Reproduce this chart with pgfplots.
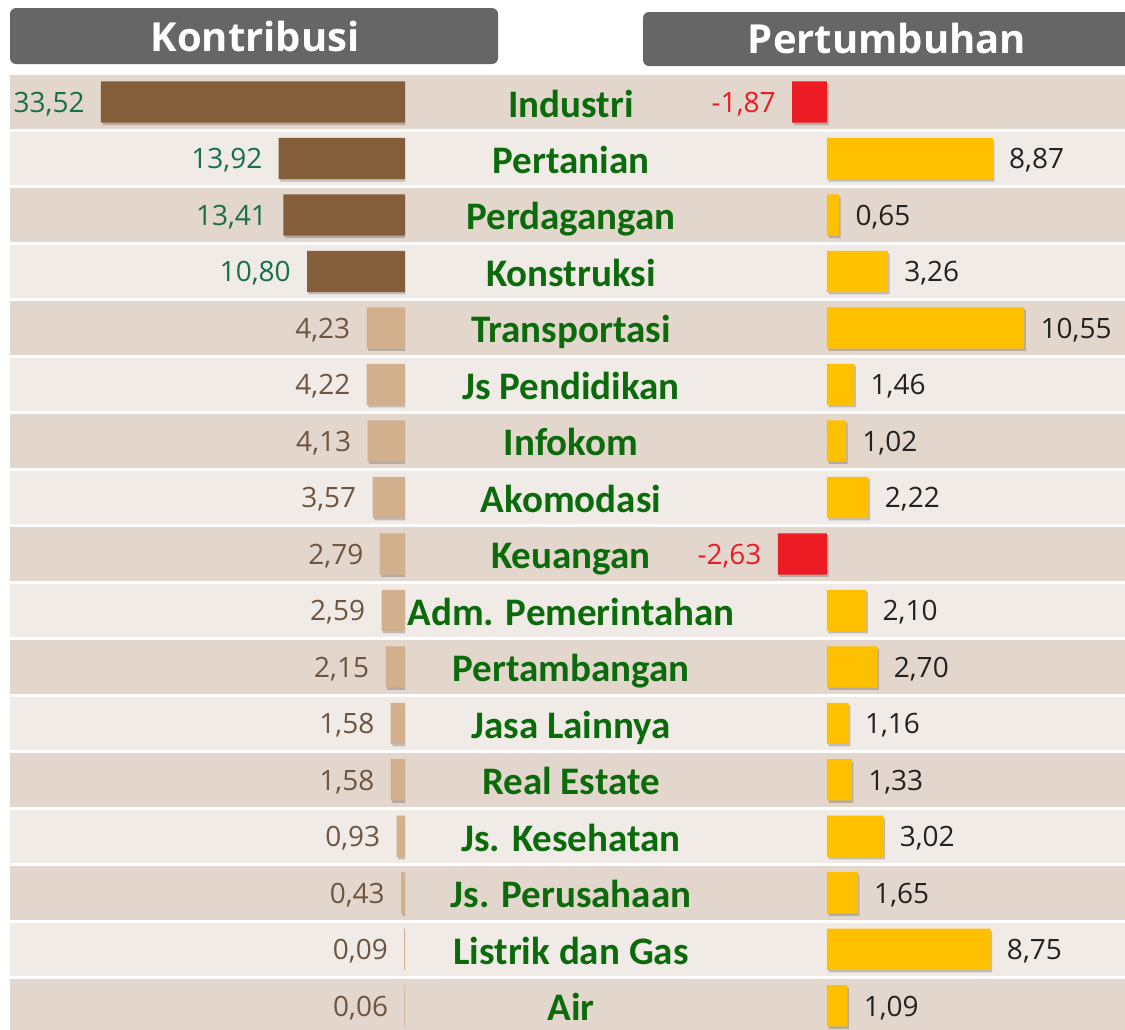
\documentclass[border=0pt]{standalone}
\usepackage{fontspec}
\setmainfont{Carlito}
\newfontfamily\numfont{Open Sans}
\usepackage{pgfplots}
\pgfplotsset{compat=1.18}
\usepackage{pgfplotstable}
\usetikzlibrary{shadows}

\definecolor{stripeA}{HTML}{E3D6CD}
\definecolor{stripeB}{HTML}{F0EBE7}
\definecolor{headgray}{HTML}{666666}
\definecolor{brownbar}{HTML}{845E3A}
\definecolor{tanbar}{HTML}{D3B08D}
\definecolor{goldbar}{HTML}{FFC000}
\definecolor{redbar}{HTML}{ED1C24}
\definecolor{catgreen}{HTML}{0B6B0B}
\definecolor{valgreen}{HTML}{17704A}
\definecolor{valbrown}{HTML}{6E5540}
\definecolor{valdark}{HTML}{222222}

\pgfplotstableread{
y v
0 33.52
1 13.92
2 13.41
3 10.80
}\kontribA
\pgfplotstableread{
y v
4 4.23
5 4.22
6 4.13
7 3.57
8 2.79
9 2.59
10 2.15
11 1.58
12 1.58
13 0.93
14 0.43
15 0.09
16 0.06
}\kontribB
\pgfplotstableread{
y v
1 8.87
2 0.65
3 3.26
4 10.55
5 1.46
6 1.02
7 2.22
9 2.10
10 2.70
11 1.16
12 1.33
13 3.02
14 1.65
15 8.75
16 1.09
}\tumbuhPos
\pgfplotstableread{
y v
0 -1.87
8 -2.63
}\tumbuhNeg

\pgfplotsset{
  rowaxis/.style={
    scale only axis, height=477.6pt,
    xbar, bar width=0.73, y dir=reverse,
    ymin=-0.5, ymax=16.41,
    axis line style={draw=none}, major tick length=0pt,
    xtick=\empty, ytick=\empty,
    point meta=x,
    nodes near coords={\pgfmathprintnumber[fixed,fixed zerofill,precision=2,use comma,assume math mode=true]{\pgfplotspointmeta}},
    every node near coord/.append style={font=\numfont\fontsize{14}{16}\selectfont, inner sep=0pt, text height=10.5pt, text depth=0pt},
  },
  shadowed/.style={drop shadow={shadow xshift=0.8pt, shadow yshift=-1.2pt, opacity=0.2, fill=black}},
}

\begin{document}
\begin{tikzpicture}
% background stripes (1 px = 0.5pt)
\foreach \i in {0,...,16}{
  \pgfmathsetmacro{\ya}{-0.5*(75.25+56.5*\i)}
  \pgfmathsetmacro{\yb}{\ya-26.75}
  \pgfmathtruncatemacro{\odd}{mod(\i,2)}
  \ifnum\odd=0 \def\sc{stripeA}\else\def\sc{stripeB}\fi
  \fill[\sc] (5pt,\ya pt) rectangle (562.5pt,\yb pt);
}
% headers
\fill[headgray, rounded corners=3pt] (5pt,-4pt) rectangle (249pt,-32pt);
\node[text=white, font=\numfont\bfseries\fontsize{20}{22}\selectfont] at (127.5pt,-18pt) {Kontribusi};
\fill[headgray, rounded corners=3pt] (321.5pt,-6pt) rectangle (575pt,-33pt);
\node[text=white, font=\numfont\bfseries\fontsize{20}{22}\selectfont] at (443.5pt,-19pt) {Pertumbuhan};

% left axis: Kontribusi
\begin{axis}[rowaxis,
  at={(5pt,-36.875pt)}, anchor=north west, width=197.5pt,
  x dir=reverse, xmin=0, xmax=43.55]
\addplot[fill=brownbar, draw=none, bar shift=0pt, shadowed,
  every node near coord/.append style={text=valgreen, anchor=east, xshift=-8pt}]
  table[x=v, y=y] {\kontribA};
\addplot[fill=tanbar, draw=none, bar shift=0pt, shadowed,
  every node near coord/.append style={text=valbrown, anchor=east, xshift=-8pt}]
  table[x=v, y=y] {\kontribB};
\end{axis}

% right axis: Pertumbuhan
\begin{axis}[rowaxis,
  at={(202.5pt,-36.875pt)}, anchor=north west, width=360pt,
  xmin=-22.57, xmax=15.94,
  ytick={0,...,16},
  yticklabels={Industri,Pertanian,Perdagangan,Konstruksi,Transportasi,Js Pendidikan,Infokom,Akomodasi,Keuangan,Adm. Pemerintahan,Pertambangan,Jasa Lainnya,Real Estate,Js. Kesehatan,Js. Perusahaan,Listrik dan Gas,Air},
  yticklabel style={anchor=center, xshift=83pt, text=catgreen, text height=15pt, text depth=0pt, font=\bfseries\fontsize{19.5}{21}\selectfont}]
\addplot[fill=goldbar, draw=none, bar shift=0pt, shadowed,
  every node near coord/.append style={text=valdark, anchor=west, xshift=8pt}]
  table[x=v, y=y] {\tumbuhPos};
\addplot[fill=redbar, draw=none, bar shift=0pt, shadowed,
  every node near coord/.append style={text=redbar, anchor=east, xshift=-8pt}]
  table[x=v, y=y] {\tumbuhNeg};
\end{axis}

\pgfresetboundingbox
\useasboundingbox (0,0) rectangle (562.5pt,-514.5pt);
\end{tikzpicture}
\end{document}
